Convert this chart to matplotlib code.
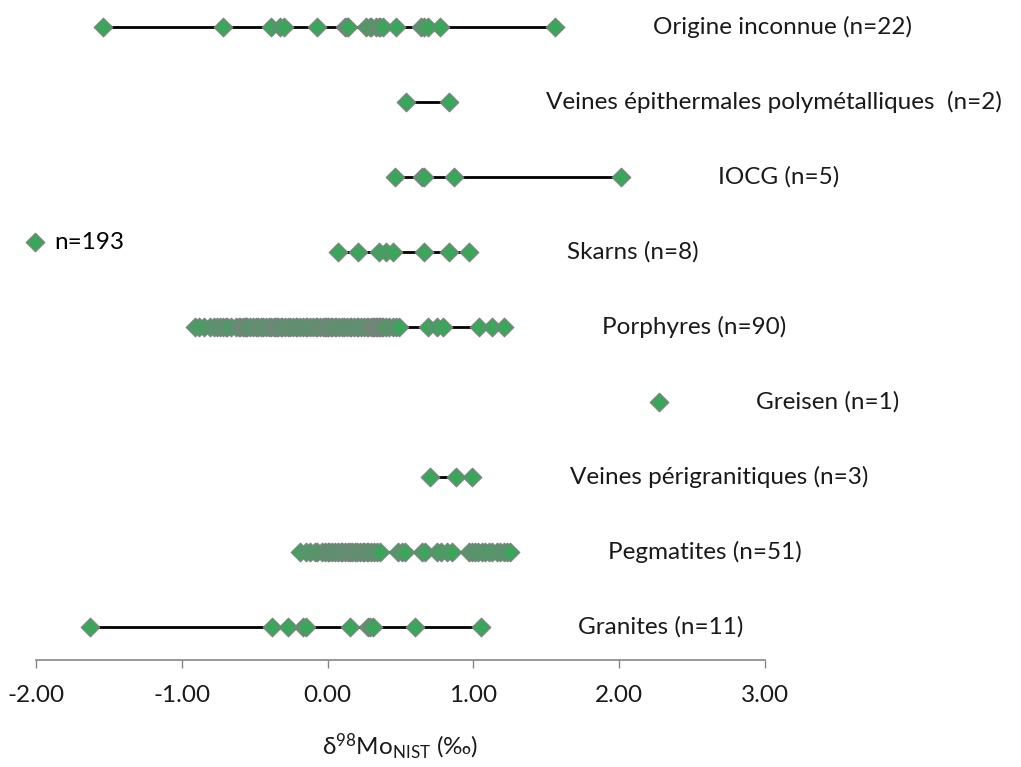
import matplotlib
matplotlib.use('Agg')
import matplotlib.pyplot as plt

plt.rcParams['font.family'] = ['Lato', 'DejaVu Sans']
plt.rcParams['mathtext.default'] = 'regular'

# deposit types, bottom to top
categories = ['Granites', 'Pegmatites', 'Veines périgranitiques', 'Greisen',
              'Porphyres', 'Skarns', 'IOCG',
              'Veines épithermales polymétalliques ', 'Origine inconnue']

granites = [-1.63, -0.38, -0.27, -0.17, -0.15, 0.15, 0.28, 0.29, 0.31, 0.60, 1.05]
pegmatites = [-0.19, -0.15, -0.12, -0.09, -0.07, -0.04, -0.02, 0.00, 0.01, 0.03,
              0.05, 0.07, 0.09, 0.10, 0.12, 0.14, 0.15, 0.17, 0.19, 0.20,
              0.22, 0.24, 0.25, 0.27, 0.28, 0.30, 0.32, 0.34, 0.36, 0.48,
              0.51, 0.53, 0.65, 0.67, 0.75, 0.78, 0.82, 0.85, 0.97, 0.99,
              1.01, 1.03, 1.06, 1.08, 1.11, 1.13, 1.16, 1.18, 1.21, 1.23, 1.25]
peri = [0.70, 0.88, 0.99]
greisen = [2.27]
porphyres = [-0.91, -0.88, -0.85, -0.81, -0.78, -0.76, -0.74, -0.72, -0.70, -0.69,
             -0.66, -0.63, -0.61, -0.60, -0.58, -0.57, -0.56, -0.55, -0.53, -0.51,
             -0.49, -0.48, -0.46, -0.44, -0.42, -0.40, -0.39, -0.37, -0.36, -0.35,
             -0.34, -0.32, -0.31, -0.29, -0.27, -0.26, -0.24, -0.22, -0.21, -0.19,
             -0.17, -0.15, -0.14, -0.12, -0.10, -0.08, -0.07, -0.05, -0.03, -0.02,
             -0.01, 0.00, 0.00, 0.02, 0.03, 0.05, 0.06, 0.08, 0.10, 0.11,
             0.13, 0.15, 0.16, 0.18, 0.20, 0.21, 0.23, 0.25, 0.27, 0.28,
             0.30, 0.31, 0.32, 0.33, 0.34, 0.35, 0.36, 0.37, 0.38, 0.40,
             0.42, 0.45, 0.47, 0.49, 0.69, 0.75, 0.79, 1.04, 1.13, 1.21]
skarns = [0.07, 0.21, 0.35, 0.40, 0.45, 0.66, 0.83, 0.97]
iocg = [0.46, 0.65, 0.66, 0.87, 2.01]
epithermales = [0.54, 0.83]
inconnue = [-1.54, -0.72, -0.39, -0.33, -0.30, -0.07, 0.12, 0.13, 0.14, 0.26, 0.29,
            0.30, 0.33, 0.35, 0.36, 0.38, 0.47, 0.64, 0.66, 0.69, 0.77, 1.56]

series = [granites, pegmatites, peri, greisen, porphyres, skarns, iocg,
          epithermales, inconnue]
xticks = [-2, -1, 0, 1, 2, 3]

green = '#3ca55c'
txt = '#1a1a1a'
fs = 17.5

fig = plt.figure(figsize=(10.21, 7.67), dpi=100)
ax = fig.add_axes([0.0353, 0.1395, 0.7140, 0.8605])

xs, ys = [], []
for i, vals in enumerate(series):
    y = i + 1
    ax.plot([min(vals), max(vals)], [y, y], color='black', lw=2, zorder=1)
    xs += vals
    ys += [y] * len(vals)
    ax.text(max(vals) + 0.67, y, '%s (n=%d)' % (categories[i], len(vals)),
            ha='left', va='center', fontsize=fs, color=txt, clip_on=False)

ax.scatter(xs, ys, marker='D', s=90, color=green, edgecolors='#7f7f7f',
           linewidths=0.8, zorder=3, label='n=%d' % len(xs))

ax.set_xlim(-2, 3)
ax.set_ylim(0.56, 9.36)
ax.set_xticks(xticks)
ax.set_xticklabels(['%.2f' % t for t in xticks], fontsize=fs, color=txt)
ax.tick_params(axis='x', direction='out', length=6, width=1, color='#868686', pad=12)
ax.set_yticks([])
for s in ['top', 'right', 'left']:
    ax.spines[s].set_visible(False)
ax.spines['bottom'].set_color('#868686')
ax.spines['bottom'].set_linewidth(1.2)
ax.set_xlabel(r'δ$^{98}$Mo$_{NIST}$ (‰)', fontsize=fs, color=txt, labelpad=18)

ax.legend(loc='center left', bbox_to_anchor=(-0.022, 0.633), frameon=False,
          handletextpad=0.2, handlelength=1.2, fontsize=fs, borderaxespad=0,
          borderpad=0)

fig.savefig('out.png', dpi=100)
